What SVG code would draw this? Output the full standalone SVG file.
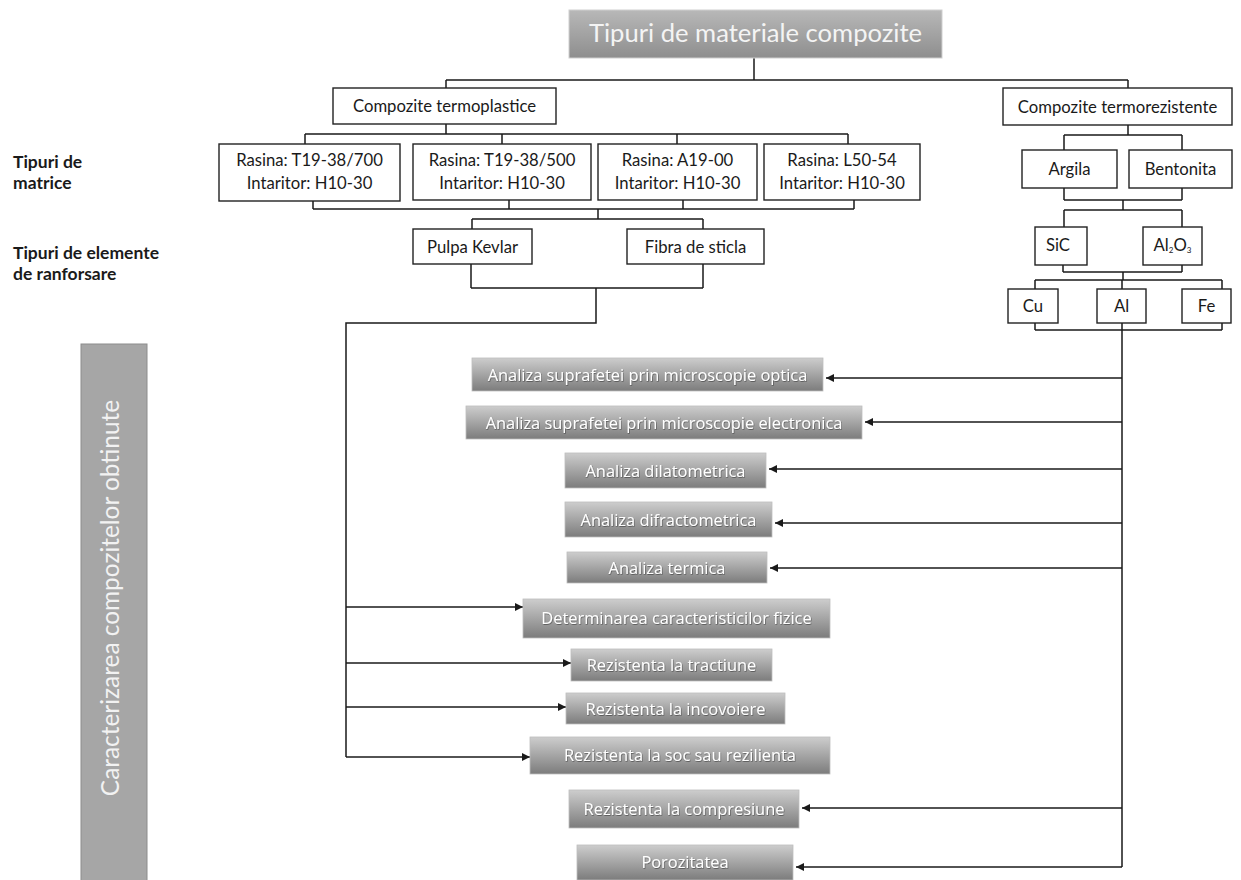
<svg xmlns="http://www.w3.org/2000/svg" width="1241" height="880" viewBox="0 0 1241 880">
<style>
.bx{fill:#fff;stroke:#222;stroke-width:1.4}
.t{font-family:Lato,"Open Sans","Liberation Sans",sans-serif;font-size:16.7px;fill:#1a1a1a;text-anchor:middle}
.lbl{font-family:Lato,"Open Sans","Liberation Sans",sans-serif;font-size:17.5px;font-weight:bold;fill:#1a1a1a}
.gb{fill:url(#gg);stroke:#bdbdbd;stroke-width:0.8}
.gt{font-family:"Open Sans","Liberation Sans",sans-serif;font-size:16.4px;fill:#fff;text-anchor:middle;filter:url(#sh)}
.ln{fill:none;stroke:#1a1a1a;stroke-width:1.5}
.ar{fill:none;stroke:#1a1a1a;stroke-width:1.5;marker-end:url(#ah)}
</style>
<defs>
<linearGradient id="gg" x1="0" y1="0" x2="0" y2="1">
<stop offset="0" stop-color="#cdcdcd"/>
<stop offset="1" stop-color="#7c7c7c"/>
</linearGradient>
<linearGradient id="tg" x1="0" y1="0" x2="0" y2="1">
<stop offset="0" stop-color="#b8b8b8"/>
<stop offset="1" stop-color="#8e8e8e"/>
</linearGradient>
<filter id="sh" x="-5%" y="-20%" width="110%" height="150%">
<feDropShadow dx="0.6" dy="0.8" stdDeviation="0.5" flood-color="#000" flood-opacity="0.45"/>
</filter>
<marker id="ah" viewBox="0 0 10 10" refX="10" refY="5" markerWidth="9" markerHeight="8" markerUnits="userSpaceOnUse" orient="auto">
<path d="M0,0 L10,5 L0,10 z" fill="#1a1a1a"/>
</marker>
</defs>

<g id="connectors">
<path class="ln" d="M754,58 V80 M446,80 H1128 M446,80 V88 M1128,80 V88"/>
<path class="ln" d="M446,124 V134 M305,134 H848 M305,134 V144 M502,134 V144 M677,134 V144 M848,134 V144"/>
<path class="ln" d="M313,201 V209 M509,200 V209 M683,200 V209 M854,200 V209 M313,209 H854 M598,209 V219 M472,219 H703 M472,219 V229 M703,219 V229"/>
<path class="ln" d="M471,264 V288 M703,264 V288 M471,288 H703 M596,288 V323 H346 V757"/>
<path class="ar" d="M346,607 H523"/>
<path class="ar" d="M346,663 H571"/>
<path class="ar" d="M346,707 H566"/>
<path class="ar" d="M346,757 H530"/>
<path class="ln" d="M1128,125 V135 M1064,135 H1182 M1064,135 V150 M1182,135 V150"/>
<path class="ln" d="M1064,188 V200 M1182,188 V200 M1064,200 H1182 M1123,200 V210 M1064,210 H1182 M1064,210 V227 M1182,210 V227"/>
<path class="ln" d="M1063,265 V272 M1182,265 V272 M1063,272 H1182 M1123,272 V280 M1035,280 H1222 M1035,280 V289 M1122,280 V289 M1222,280 V289"/>
<path class="ln" d="M1035,323 V330 M1222,323 V330 M1035,330 H1222 M1122,323 V867"/>
<path class="ar" d="M1122,378 H826"/>
<path class="ar" d="M1122,422 H865"/>
<path class="ar" d="M1122,469 H769"/>
<path class="ar" d="M1122,523 H775"/>
<path class="ar" d="M1122,568 H770"/>
<path class="ar" d="M1122,808 H802"/>
<path class="ar" d="M1122,867 H796"/>
</g>

<g id="title">
<rect x="569" y="10" width="373" height="48" fill="url(#tg)" stroke="#cfcfcf" stroke-width="1"/>
<text x="755.5" y="42" font-family="Lato,'Open Sans','Liberation Sans',sans-serif" font-size="25.6" fill="#f4f4f4" text-anchor="middle">Tipuri de materiale compozite</text>
</g>

<g id="lbl-matrice">
<text class="lbl" x="13" y="168">Tipuri de</text>
<text class="lbl" x="13" y="189">matrice</text>
</g>
<g id="lbl-ranforsare">
<text class="lbl" x="13" y="259">Tipuri de elemente</text>
<text class="lbl" x="13" y="280">de ranforsare</text>
</g>

<g id="termoplastice">
<rect class="bx" x="333" y="88" width="223" height="36"/>
<text class="t" x="444.5" y="112">Compozite termoplastice</text>
</g>
<g id="termorezistente">
<rect class="bx" x="1003" y="88" width="229" height="37"/>
<text class="t" x="1117.5" y="112.5">Compozite termorezistente</text>
</g>

<g id="rasina1">
<rect class="bx" x="219" y="144" width="181" height="57"/>
<text class="t" x="309.5" y="166">Rasina: T19-38/700</text>
<text class="t" x="309.5" y="189">Intaritor: H10-30</text>
</g>
<g id="rasina2">
<rect class="bx" x="413" y="144" width="178" height="56"/>
<text class="t" x="502" y="166">Rasina: T19-38/500</text>
<text class="t" x="502" y="189">Intaritor: H10-30</text>
</g>
<g id="rasina3">
<rect class="bx" x="598" y="144" width="159" height="56"/>
<text class="t" x="677.5" y="166">Rasina: A19-00</text>
<text class="t" x="677.5" y="189">Intaritor: H10-30</text>
</g>
<g id="rasina4">
<rect class="bx" x="764" y="144" width="156" height="56"/>
<text class="t" x="842" y="166">Rasina: L50-54</text>
<text class="t" x="842" y="189">Intaritor: H10-30</text>
</g>

<g id="kevlar">
<rect class="bx" x="413" y="229" width="119" height="35"/>
<text class="t" x="472.5" y="252.5">Pulpa Kevlar</text>
</g>
<g id="fibra">
<rect class="bx" x="627" y="229" width="137" height="35"/>
<text class="t" x="695.5" y="252.5">Fibra de sticla</text>
</g>

<g id="argila">
<rect class="bx" x="1022" y="150" width="95" height="38"/>
<text class="t" x="1069.5" y="175">Argila</text>
</g>
<g id="bentonita">
<rect class="bx" x="1129" y="150" width="103" height="38"/>
<text class="t" x="1180.5" y="175">Bentonita</text>
</g>
<g id="sic">
<rect class="bx" x="1035" y="227" width="52" height="38"/>
<text class="t" x="1058" y="251" font-size="14">SiC</text>
</g>
<g id="al2o3">
<rect class="bx" x="1143" y="227" width="59" height="38"/>
<text class="t" x="1172.5" y="251" font-size="13">Al<tspan font-size="8" dy="2">2</tspan><tspan dy="-2">O</tspan><tspan font-size="8" dy="2">3</tspan></text>
</g>
<g id="cu">
<rect class="bx" x="1008" y="289" width="50" height="34"/>
<text class="t" x="1033" y="312">Cu</text>
</g>
<g id="al">
<rect class="bx" x="1097" y="289" width="49" height="34"/>
<text class="t" x="1121.5" y="312">Al</text>
</g>
<g id="fe">
<rect class="bx" x="1182" y="289" width="49" height="34"/>
<text class="t" x="1206.5" y="312">Fe</text>
</g>

<g id="caracterizarea">
<rect x="81" y="344" width="66" height="540" fill="#a6a6a6" stroke="#8c8c8c" stroke-width="1"/>
<text x="0" y="0" transform="translate(119,598) rotate(-90)" font-family="Lato,'Open Sans','Liberation Sans',sans-serif" font-size="24.4" fill="#f2f2f2" text-anchor="middle">Caracterizarea compozitelor obtinute</text>
</g>

<g id="optica">
<rect class="gb" x="472" y="358" width="351" height="33"/>
<text class="gt" x="647.5" y="380.5">Analiza suprafetei prin microscopie optica</text>
</g>
<g id="electronica">
<rect class="gb" x="466" y="406" width="396" height="33"/>
<text class="gt" x="664" y="428.5">Analiza suprafetei prin microscopie electronica</text>
</g>
<g id="dilatometrica">
<rect class="gb" x="565" y="453" width="201" height="35"/>
<text class="gt" x="665.5" y="476.5">Analiza dilatometrica</text>
</g>
<g id="difractometrica">
<rect class="gb" x="565" y="502" width="207" height="35"/>
<text class="gt" x="668.5" y="525.5">Analiza difractometrica</text>
</g>
<g id="termica">
<rect class="gb" x="567" y="552" width="200" height="31"/>
<text class="gt" x="667" y="573.5">Analiza termica</text>
</g>
<g id="fizice">
<rect class="gb" x="523" y="599" width="307" height="39"/>
<text class="gt" x="676.5" y="624">Determinarea caracteristicilor fizice</text>
</g>
<g id="tractiune">
<rect class="gb" x="571" y="649" width="201" height="32"/>
<text class="gt" x="671.5" y="671">Rezistenta la tractiune</text>
</g>
<g id="incovoiere">
<rect class="gb" x="566" y="693" width="219" height="31"/>
<text class="gt" x="675.5" y="714.5">Rezistenta la incovoiere</text>
</g>
<g id="soc">
<rect class="gb" x="530" y="737" width="300" height="37"/>
<text class="gt" x="680" y="761">Rezistenta la soc sau rezilienta</text>
</g>
<g id="compresiune">
<rect class="gb" x="569" y="790" width="230" height="38"/>
<text class="gt" x="684" y="814.5">Rezistenta la compresiune</text>
</g>
<g id="porozitatea">
<rect class="gb" x="577" y="845" width="216" height="35"/>
<text class="gt" x="685" y="868">Porozitatea</text>
</g>
</svg>
